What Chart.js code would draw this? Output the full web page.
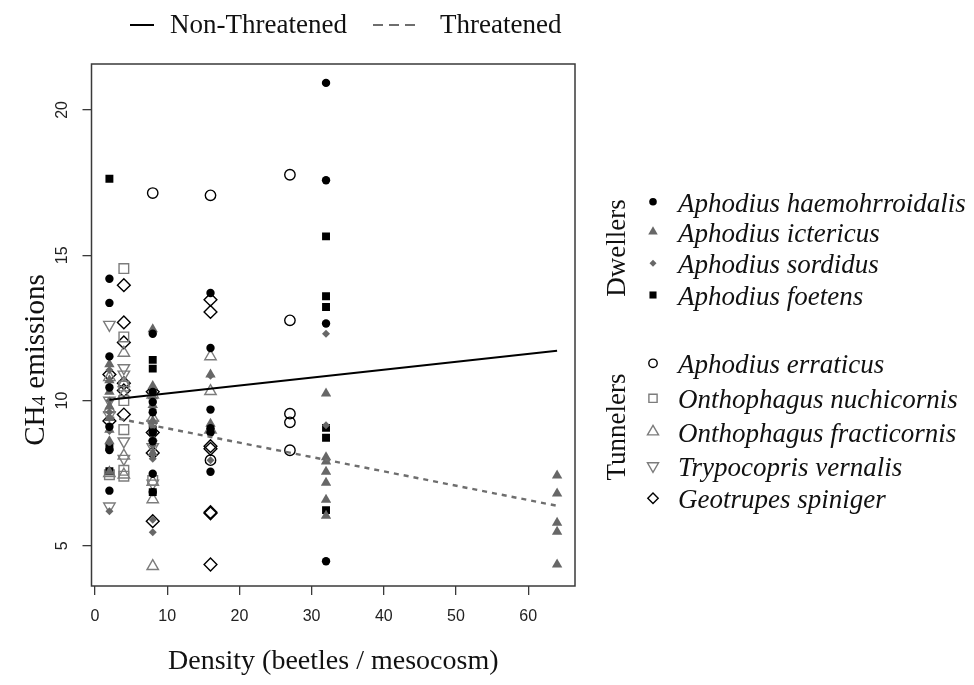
<!DOCTYPE html>
<html><head><meta charset="utf-8">
<script src="https://cdn.jsdelivr.net/npm/chart.js@4/dist/chart.umd.min.js"></script>
<style>html,body{margin:0;padding:0;background:#fff}canvas{display:block}</style>
</head><body>
<canvas id="c" width="974" height="685"></canvas>
<script>
// ---- tick labels ----
const xTicks = [0, 10, 20, 30, 40, 50, 60];
const xTickLabels = ['0', '10', '20', '30', '40', '50', '60'];
const yTicks = [5, 10, 15, 20];
const yTickLabels = ['5', '10', '15', '20'];

// ---- species (Dwellers) ----
const haemX = [2, 2, 2, 2, 2, 2, 2, 8, 8, 8, 8, 8, 8, 8, 8, 16, 16, 16, 16, 16, 16, 32, 32, 32, 32];
const haemY = [14.19, 13.36, 11.52, 10.45, 9.1, 8.3, 6.9, 12.3, 10.3, 9.95, 9.6, 8.9, 8.6, 7.48, 6.85, 13.7, 11.81, 9.69, 9.05, 8.9, 7.55, 20.93, 17.58, 12.65, 4.47];

const ictX = [2, 2, 2, 2, 2, 2, 2, 2, 8, 8, 8, 8, 8, 8, 8, 16, 16, 16, 32, 32, 32, 32, 32, 32, 32, 64, 64, 64, 64, 64];
const ictY = [11.25, 10.7, 10.3, 9.8, 9.4, 9.0, 8.6, 7.55, 12.45, 10.5, 10.15, 9.85, 9.3, 8.7, 8.2, 10.9, 9.2, 9.0, 10.24, 8.05, 7.9, 7.55, 7.17, 6.59, 6.04, 7.42, 6.8, 5.8, 5.49, 4.36];

const sordX = [2, 2, 2, 2, 2, 2, 2, 8, 8, 8, 8, 8, 8, 8, 16, 16, 32, 32];
const sordY = [11.05, 10.5, 10.0, 9.6, 8.95, 8.55, 6.19, 10.4, 9.7, 9.1, 8.45, 8.0, 5.9, 5.47, 10.85, 7.95, 12.3, 9.15];

const foetX = [2, 2, 2, 8, 8, 8, 8, 32, 32, 32, 32, 32, 32];
const foetY = [17.63, 8.4, 7.57, 11.4, 11.1, 9.0, 6.85, 15.65, 13.59, 13.22, 9.06, 8.72, 6.23];

// ---- species (Tunnelers) ----
const errX = [8, 16, 16, 27, 27, 27, 27, 27];
const errY = [17.14, 17.06, 7.95, 17.77, 12.76, 9.55, 9.25, 8.29];

const nuchX = [2, 4, 4, 4, 4, 4, 4, 4, 8];
const nuchY = [7.45, 14.54, 12.19, 10.5, 10.0, 9.0, 7.6, 7.4, 7.25];

const fracX = [2, 2, 2, 4, 4, 4, 4, 4, 8, 8, 8, 8, 8, 16, 16, 16];
const fracY = [10.8, 9.7, 7.5, 11.64, 10.6, 10.2, 8.1, 7.45, 10.2, 9.4, 7.2, 6.6, 4.3, 11.52, 10.32, 9.0];

const vernX = [2, 2, 2, 2, 4, 4, 4, 4, 8, 8, 8];
const vernY = [12.61, 10.0, 9.5, 6.36, 11.12, 10.9, 8.6, 8.0, 9.2, 7.15, 8.4];

const spinX = [2, 2, 4, 4, 4, 4, 4, 4, 8, 8, 8, 8, 16, 16, 16, 16, 16, 16, 16];
const spinY = [10.9, 9.3, 13.97, 12.69, 12.0, 10.6, 10.35, 9.52, 10.3, 8.9, 8.2, 5.85, 13.47, 13.05, 8.43, 8.34, 6.16, 6.12, 4.36];

// ---- fitted lines ----
const nonThreatX = [2, 64];
const nonThreatY = [10.03, 11.71];
const threatX = [2, 64];
const threatY = [9.44, 6.38];

const groupNames = ['Dwellers', 'Tunnelers'];
const lineLabels = ['Non-Threatened', 'Threatened'];

const GRAY = '#676767';
const LGRAY = '#7c7c7c';
const pts = (xs, ys) => xs.map((x, i) => ({ x: x, y: ys[i] }));

const speciesDefs = [
  { label: 'Aphodius haemohrroidalis', group: 0, xs: haemX, ys: haemY, style: 'circle', r: 4.2, fill: '#000', stroke: '#000', bw: 0, rot: 0, lr: 3.8 },
  { label: 'Aphodius ictericus', group: 0, xs: ictX, ys: ictY, style: 'triangle', r: 6, fill: GRAY, stroke: GRAY, bw: 0, rot: 0, lr: 5.5 },
  { label: 'Aphodius sordidus', group: 0, xs: sordX, ys: sordY, style: 'rectRot', r: 4, fill: GRAY, stroke: GRAY, bw: 0, rot: 0, lr: 3.5 },
  { label: 'Aphodius foetens', group: 0, xs: foetX, ys: foetY, style: 'rect', r: 5.6, fill: '#000', stroke: '#000', bw: 0, rot: 0, lr: 5 },
  { label: 'Aphodius erraticus', group: 1, xs: errX, ys: errY, style: 'circle', r: 5.2, fill: 'rgba(0,0,0,0)', stroke: '#000', bw: 1.4, rot: 0, lr: 4.2 },
  { label: 'Onthophagus nuchicornis', group: 1, xs: nuchX, ys: nuchY, style: 'rect', r: 6.8, fill: 'rgba(0,0,0,0)', stroke: LGRAY, bw: 1.4, rot: 0, lr: 5.8 },
  { label: 'Onthophagus fracticornis', group: 1, xs: fracX, ys: fracY, style: 'triangle', r: 6.6, fill: 'rgba(0,0,0,0)', stroke: LGRAY, bw: 1.4, rot: 0, lr: 6.4 },
  { label: 'Trypocopris vernalis', group: 1, xs: vernX, ys: vernY, style: 'triangle', r: 6.6, fill: 'rgba(0,0,0,0)', stroke: LGRAY, bw: 1.4, rot: 180, lr: 6.4 },
  { label: 'Geotrupes spiniger', group: 1, xs: spinX, ys: spinY, style: 'rectRot', r: 6.4, fill: 'rgba(0,0,0,0)', stroke: '#000', bw: 1.4, rot: 0, lr: 5.2 }
];

const datasets = speciesDefs.map((s, i) => ({
  label: s.label,
  data: pts(s.xs, s.ys),
  showLine: false,
  pointStyle: s.style,
  pointRadius: s.r,
  pointRotation: s.rot,
  pointBackgroundColor: s.fill,
  pointBorderColor: s.stroke,
  pointBorderWidth: s.bw,
  order: 1 + i
}));
datasets.push({
  label: lineLabels[0], data: pts(nonThreatX, nonThreatY), showLine: true,
  borderColor: '#000', borderWidth: 2, pointRadius: 0, order: 0
});
datasets.push({
  label: lineLabels[1], data: pts(threatX, threatY), showLine: true,
  borderColor: '#6e6e6e', borderWidth: 2.4, borderDash: [5, 5], pointRadius: 0, order: 0
});

const SERIF = '"Liberation Serif", "Times New Roman", serif';
const SANS = '"Liberation Sans", Arial, sans-serif';

function mark(ctx, s, x, y, r) {
  ctx.save();
  ctx.fillStyle = s.fill; ctx.strokeStyle = s.stroke; ctx.lineWidth = s.bw;
  Chart.helpers.drawPoint(ctx, { pointStyle: s.style, rotation: s.rot, radius: r, borderWidth: s.bw }, x, y);
  ctx.restore();
}

const decor = {
  id: 'decor',
  afterDraw(chart) {
    const ctx = chart.ctx, a = chart.chartArea, ys = chart.scales.y;
    ctx.save();
    // frame
    ctx.strokeStyle = '#3a3a3a'; ctx.lineWidth = 1.5;
    ctx.strokeRect(a.left, a.top, a.right - a.left, a.bottom - a.top);
    // y tick labels (rotated like R)
    ctx.fillStyle = '#222'; ctx.font = '16px ' + SANS;
    ctx.textAlign = 'center'; ctx.textBaseline = 'middle';
    yTicks.forEach((v, i) => {
      ctx.save(); ctx.translate(63, ys.getPixelForValue(v)); ctx.rotate(-Math.PI / 2);
      ctx.fillText(yTickLabels[i], 0, 0); ctx.restore();
    });
    // y title: CH4 emissions
    ctx.fillStyle = '#111';
    ctx.save(); ctx.translate(44, 360); ctx.rotate(-Math.PI / 2);
    ctx.textAlign = 'left'; ctx.textBaseline = 'alphabetic';
    const big = '29px ' + SERIF, small = '19px ' + SERIF;
    ctx.font = big; const w1 = ctx.measureText('CH').width; const w3 = ctx.measureText(' emissions').width;
    ctx.font = small; const w2 = ctx.measureText('4').width;
    let x0 = -(w1 + w2 + w3) / 2;
    ctx.font = big; ctx.fillText('CH', x0, 0); x0 += w1;
    ctx.font = small; ctx.fillText('4', x0, 1); x0 += w2;
    ctx.font = big; ctx.fillText(' emissions', x0, 0);
    ctx.restore();

    // top legend
    ctx.lineWidth = 2; ctx.strokeStyle = '#000'; ctx.setLineDash([]);
    ctx.beginPath(); ctx.moveTo(130, 25); ctx.lineTo(154, 25); ctx.stroke();
    ctx.strokeStyle = '#6e6e6e'; ctx.setLineDash([10, 6]);
    ctx.beginPath(); ctx.moveTo(373, 25); ctx.lineTo(415, 25); ctx.stroke();
    ctx.setLineDash([]);
    ctx.font = '27px ' + SERIF; ctx.fillStyle = '#111'; ctx.textAlign = 'left'; ctx.textBaseline = 'alphabetic';
    ctx.fillText(lineLabels[0], 170, 33);
    ctx.fillText(lineLabels[1], 440, 33);

    // right legend
    const rowsY = [201.7, 231.7, 263.3, 295, 363.3, 398.3, 431.7, 466, 498.3];
    speciesDefs.forEach((s, i) => {
      mark(ctx, s, 653, rowsY[i], s.lr);
      ctx.font = 'italic 27px ' + SERIF; ctx.fillStyle = '#111';
      ctx.textAlign = 'left'; ctx.textBaseline = 'alphabetic';
      ctx.fillText(s.label, 678, rowsY[i] + 10);
    });
    ctx.font = '27px ' + SERIF; ctx.textAlign = 'center';
    [[groupNames[0], 248], [groupNames[1], 427]].forEach(([t, cy]) => {
      ctx.save(); ctx.translate(625, cy); ctx.rotate(-Math.PI / 2); ctx.fillText(t, 0, 0); ctx.restore();
    });
    ctx.restore();
  }
};

new Chart(document.getElementById('c'), {
  type: 'scatter',
  data: { datasets: datasets },
  plugins: [decor],
  options: {
    responsive: false, animation: false, events: [],
    layout: { padding: { left: 0, right: 399, top: 64, bottom: 0 } },
    plugins: { legend: { display: false }, tooltip: { enabled: false } },
    scales: {
      x: {
        type: 'linear', min: -0.48, max: 66.48,
        afterBuildTicks: (sc) => { sc.ticks = xTicks.map(v => ({ value: v })); },
        afterFit: (sc) => { sc.height = 99; },
        ticks: { callback: (v) => xTickLabels[xTicks.indexOf(v)], font: { family: SANS, size: 16 }, color: '#222', padding: 12, maxRotation: 0, autoSkip: false },
        grid: { drawOnChartArea: false, drawTicks: true, tickLength: 9, color: '#3a3a3a', lineWidth: 1.3 },
        border: { display: false },
        title: { display: true, text: 'Density (beetles / mesocosm)', font: { family: SERIF, size: 28 }, color: '#111', padding: { top: 0, bottom: 7 } }
      },
      y: {
        type: 'linear', min: 3.62, max: 21.58,
        afterBuildTicks: (sc) => { sc.ticks = yTicks.map(v => ({ value: v })); },
        afterFit: (sc) => { sc.width = 91.5; },
        ticks: { display: false },
        grid: { drawOnChartArea: false, drawTicks: true, tickLength: 9, color: '#3a3a3a', lineWidth: 1.3 },
        border: { display: false }
      }
    }
  }
});
</script>
</body></html>
